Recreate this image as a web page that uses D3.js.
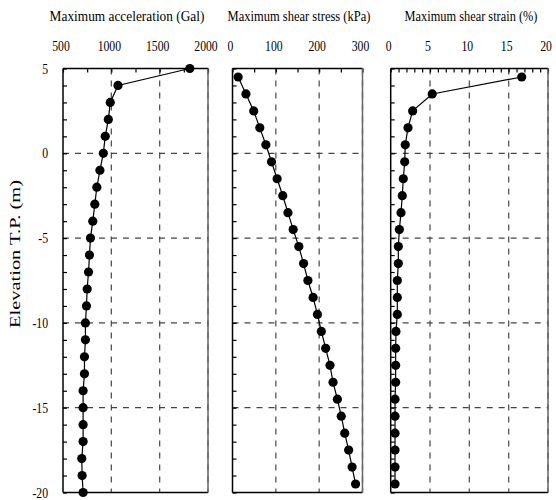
<!DOCTYPE html>
<html><head><meta charset="utf-8">
<script src="https://cdn.jsdelivr.net/npm/d3@7"></script>
<style>
body{margin:0;background:#fff;}
</style></head>
<body><svg id="c" width="556" height="500"></svg>
<script>
// Elevations (m)
const elevAcc = [5,4,3,2,1,0,-1,-2,-3,-4,-5,-6,-7,-8,-9,-10,-11,-12,-13,-14,-15,-16,-17,-18,-19,-20];
const acc = [1812,1069,989,969,937,917,882,850,829,808,784,774,764,750,743,732,732,722,722,708,708,708,708,694,698,708];
const elevMid = [4.5,3.5,2.5,1.5,0.5,-0.5,-1.5,-2.5,-3.5,-4.5,-5.5,-6.5,-7.5,-8.5,-9.5,-10.5,-11.5,-12.5,-13.5,-14.5,-15.5,-16.5,-17.5,-18.5,-19.5];
const stress = [13,31,49,63,77,90,103,116,128,140,153,164,174,186,196,205,215,225,232,242,251,259,268,276,284];
const strain = [16.66,5.28,2.79,2.2,1.85,1.78,1.6,1.47,1.31,1.1,0.97,0.97,0.84,0.84,0.84,0.67,0.63,0.63,0.63,0.55,0.55,0.55,0.55,0.55,0.55];
const titles = ["Maximum acceleration  (Gal)","Maximum shear stress (kPa)","Maximum shear strain (%)"];
const accTicks = [500,1000,1500,2000];
const stressTicks = [0,100,200,300];
const strainTicks = [0,5,10,15,20];
const yTicks = [5,0,-5,-10,-15,-20];
const yGrid = [0,-5,-10,-15];

const FONT = "Liberation Serif";
const svg = d3.select("#c");
const plotTop=68.5, plotBottom=492.5;
const y = d3.scaleLinear().domain([5,-20]).range([plotTop,plotBottom]);

const panels = [
 {x0:63, x1:208, dom:[500,2000], ticks:accTicks, minor:d3.range(500,2001,250), xs:acc, ys:elevAcc, title:titles[0], tw:155, tc:127},
 {x0:232.5, x1:362.5, dom:[0,300], ticks:stressTicks, minor:d3.range(0,301,50), xs:stress, ys:elevMid, title:titles[1], tw:143, tc:299},
 {x0:390.7, x1:548, dom:[0,20], ticks:strainTicks, minor:d3.range(0,21,1), xs:strain, ys:elevMid, title:titles[2], tw:133, tc:471}
];

function squeeze(sel, f){
  sel.each(function(){ const L=this.getComputedTextLength(); this.setAttribute("textLength", L*f); this.setAttribute("lengthAdjust","spacingAndGlyphs");});
}

panels.forEach((p,i)=>{
  const x = d3.scaleLinear().domain(p.dom).range([p.x0,p.x1]);
  const g = svg.append("g");
  g.selectAll(".vg").data(p.ticks.slice(1)).join("line")
   .attr("x1",d=>x(d)).attr("x2",d=>x(d)).attr("y1",plotTop).attr("y2",plotBottom)
   .attr("stroke","#555").attr("stroke-width",1.3).attr("stroke-dasharray","6,6");
  g.selectAll(".hg").data(yGrid).join("line")
   .attr("x1",p.x0).attr("x2",p.x1).attr("y1",d=>y(d)).attr("y2",d=>y(d))
   .attr("stroke","#444").attr("stroke-width",1.3).attr("stroke-dasharray","6,6");
  g.append("g").attr("transform",`translate(0,${plotTop})`)
   .call(d3.axisTop(x).tickValues(p.minor).tickSize(-4).tickFormat(""))
   .call(a=>a.select(".domain").remove())
   .selectAll("line").attr("stroke","#000").attr("stroke-width",1.2);
  g.append("g").attr("transform",`translate(${p.x0},0)`)
   .call(d3.axisLeft(y).tickValues(d3.range(-20,6,1)).tickSize(-4).tickFormat(""))
   .call(a=>a.select(".domain").remove())
   .selectAll("line").attr("stroke","#000").attr("stroke-width",1.2);
  g.append("line").attr("x1",p.x0).attr("x2",p.x1).attr("y1",plotTop).attr("y2",plotTop).attr("stroke","#000").attr("stroke-width",1.5);
  g.append("line").attr("x1",p.x0).attr("x2",p.x1).attr("y1",plotBottom).attr("y2",plotBottom).attr("stroke","#000").attr("stroke-width",1.5);
  g.append("line").attr("x1",p.x0).attr("x2",p.x0).attr("y1",plotTop).attr("y2",plotBottom).attr("stroke","#000").attr("stroke-width",1.5);
  g.append("line").attr("x1",p.x1).attr("x2",p.x1).attr("y1",plotTop).attr("y2",plotBottom).attr("stroke","#666").attr("stroke-width",1.5);
  const tl = g.selectAll(".tl").data(p.ticks).join("text")
   .attr("font-family",FONT)
   .attr("x",d=>x(d)-2).attr("y",50.5).attr("text-anchor","middle").attr("font-size",15).text(d=>d);
  squeeze(tl,0.78);
  const t = g.append("text").attr("font-family",FONT).attr("x",0).attr("y",0).attr("text-anchor","middle").attr("font-size",14.5)
   .text(p.title);
  const nat = t.node().getComputedTextLength();
  t.attr("transform",`translate(${p.tc},21) scale(${p.tw/nat},1)`);
  const pts = p.xs.map((v,k)=>[v,p.ys[k]]);
  g.append("path").attr("d",d3.line().x(d=>x(d[0])).y(d=>y(d[1])).curve(d3.curveLinear)(pts))
   .attr("fill","none").attr("stroke","#000").attr("stroke-width",1.2);
  g.selectAll(".pt").data(pts).join("circle")
   .attr("cx",d=>x(d[0])).attr("cy",d=>y(d[1])).attr("r",4.6).attr("fill","#000");
});

const yl = svg.selectAll(".yl").data(yTicks).join("text")
  .attr("font-family",FONT)
  .attr("x",48).attr("y",d=>y(d)+5).attr("text-anchor","end").attr("font-size",15).text(d=>d);
squeeze(yl,0.78);
svg.append("text").attr("font-family",FONT).attr("transform","translate(20,254) rotate(-90)").attr("text-anchor","middle")
  .attr("font-size",15).attr("textLength",148).attr("lengthAdjust","spacingAndGlyphs").text("Elevation  T.P.  (m)");
</script></body></html>
